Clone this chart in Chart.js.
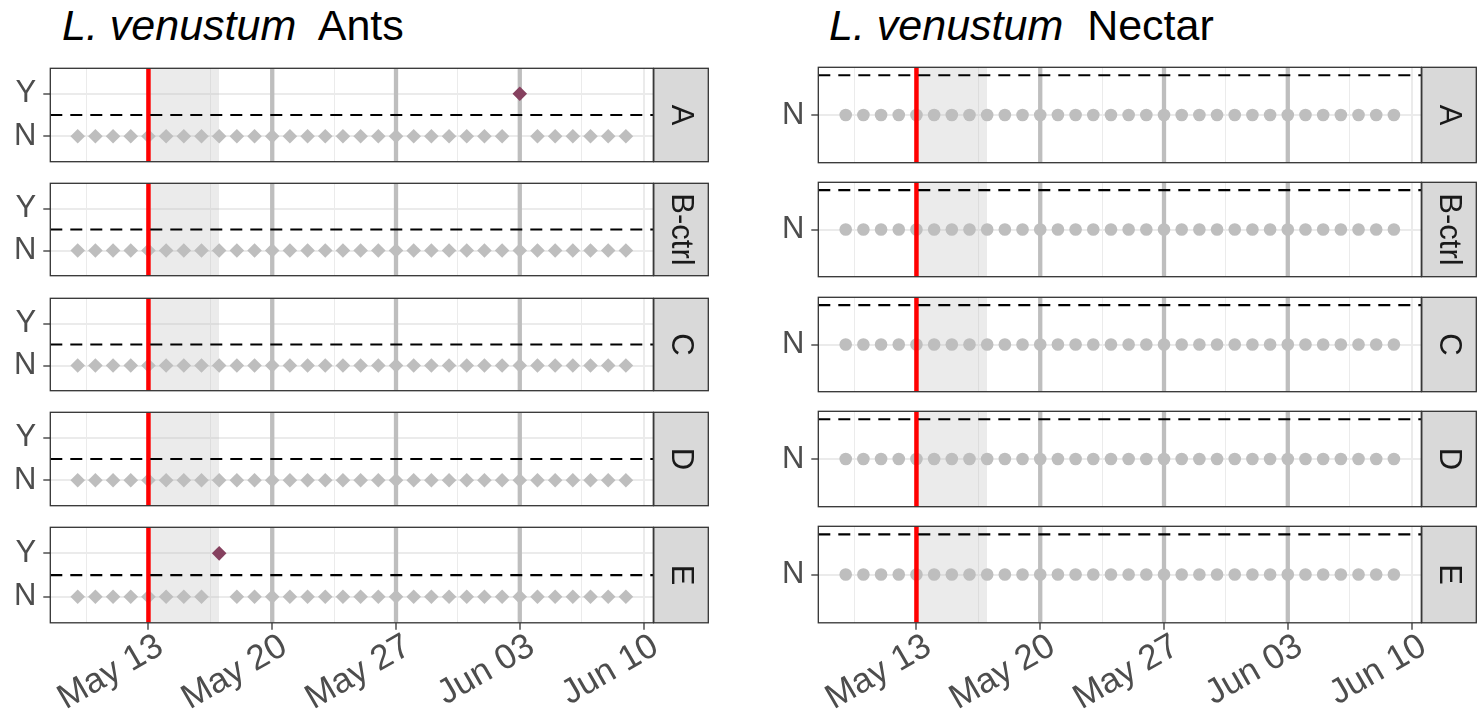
<!DOCTYPE html>
<html>
<head>
<meta charset="utf-8">
<script src="https://cdn.jsdelivr.net/npm/chart.js@4.4.0/dist/chart.umd.min.js"></script>
<style>
body { margin: 0; background: #fff; width: 1480px; height: 710px; overflow: hidden; position: relative; font-family: "Liberation Sans", Arial, sans-serif; }
.titulo { position: absolute; top: 4px; font-size: 43px; line-height: 43px; color: #000; white-space: pre; }
canvas { position: absolute; }
</style>
</head>
<body>
<div class="titulo" style="left:62px"><i>L. venustum</i>  Ants</div>
<div class="titulo" style="left:829px"><i>L. venustum</i>  Nectar</div>
<script>
var fechas = ['05-09', '05-10', '05-11', '05-12', '05-13', '05-14', '05-15', '05-16',
              '05-17', '05-18', '05-19', '05-20', '05-21', '05-22', '05-23', '05-24',
              '05-25', '05-26', '05-27', '05-28', '05-29', '05-30', '05-31', '06-01',
              '06-02', '06-03', '06-04', '06-05', '06-06', '06-07', '06-08', '06-09'];

var facetas = ['A', 'B-ctrl', 'C', 'D', 'E'];
var nivelesHormigas = ['N', 'Y'];
var nivelesNectar = ['N'];

var hormigasA = ['N','N','N','N','N','N','N','N', 'N','N','N','N','N','N','N','N',
                 'N','N','N','N','N','N','N','N', 'N','Y','N','N','N','N','N','N'];
var hormigasB = ['N','N','N','N','N','N','N','N', 'N','N','N','N','N','N','N','N',
                 'N','N','N','N','N','N','N','N', 'N','N','N','N','N','N','N','N'];
var hormigasC = ['N','N','N','N','N','N','N','N', 'N','N','N','N','N','N','N','N',
                 'N','N','N','N','N','N','N','N', 'N','N','N','N','N','N','N','N'];
var hormigasD = ['N','N','N','N','N','N','N','N', 'N','N','N','N','N','N','N','N',
                 'N','N','N','N','N','N','N','N', 'N','N','N','N','N','N','N','N'];
var hormigasE = ['N','N','N','N','N','N','N','N', 'Y','N','N','N','N','N','N','N',
                 'N','N','N','N','N','N','N','N', 'N','N','N','N','N','N','N','N'];

var nectarA = ['N','N','N','N','N','N','N','N', 'N','N','N','N','N','N','N','N',
               'N','N','N','N','N','N','N','N', 'N','N','N','N','N','N','N','N'];
var nectarB = ['N','N','N','N','N','N','N','N', 'N','N','N','N','N','N','N','N',
               'N','N','N','N','N','N','N','N', 'N','N','N','N','N','N','N','N'];
var nectarC = ['N','N','N','N','N','N','N','N', 'N','N','N','N','N','N','N','N',
               'N','N','N','N','N','N','N','N', 'N','N','N','N','N','N','N','N'];
var nectarD = ['N','N','N','N','N','N','N','N', 'N','N','N','N','N','N','N','N',
               'N','N','N','N','N','N','N','N', 'N','N','N','N','N','N','N','N'];
var nectarE = ['N','N','N','N','N','N','N','N', 'N','N','N','N','N','N','N','N',
               'N','N','N','N','N','N','N','N', 'N','N','N','N','N','N','N','N'];

var ticksX = ['05-13', '05-20', '05-27', '06-03', '06-10'];
var etiquetasX = ['May 13', 'May 20', 'May 27', 'Jun 03', 'Jun 10'];

var tratamiento = '05-13';
var lineasSemana = ['05-20', '05-27', '06-03'];
var sombra = ['05-13', '05-17'];
var umbral = 1.5;

var colorNo = '#BEBEBE';
var colorSi = '#86415F';

Chart.defaults.font.family = '"Liberation Sans", Arial, sans-serif';

function dia(s) {
    var p = s.split('-');
    return (Date.UTC(2021, +p[0] - 1, +p[1]) - Date.UTC(2021, 0, 1)) / 86400000;
}

// rango x como ggplot: datos +/- 5%
var d0 = dia(fechas[0]), d1 = dia(fechas[fechas.length - 1]);
var xMin = d0 - 0.05 * (d1 - d0);
var xMax = d1 + 0.05 * (d1 - d0);

var mayores = ticksX.map(dia);
var paso = mayores[1] - mayores[0];
var posicionesX = [];
mayores.forEach(function (m) {
    posicionesX.push(m - paso / 2);
    posicionesX.push(m);
});
posicionesX = posicionesX.filter(function (v) { return v >= xMin && v <= xMax; });

function esMayor(v) {
    return mayores.indexOf(v) >= 0;
}

var topesFaceta = [65.7, 180.4, 295.0, 409.6, 524.2];
var altoFaceta = 98.6;

var marcoPlugin = {
    id: 'marco',
    afterDraw: function (chart, args, opts) {
        var ca = chart.chartArea;
        var ctx = chart.ctx;
        var h = ca.bottom - ca.top;
        ctx.save();
        ctx.lineWidth = 1.3;
        ctx.strokeStyle = '#333333';
        ctx.strokeRect(ca.left, ca.top, ca.right - ca.left, h);
        var sx = ca.right + 0.5;
        var sw = 54.5;
        ctx.fillStyle = '#D9D9D9';
        ctx.fillRect(sx, ca.top, sw, h);
        ctx.strokeRect(sx, ca.top, sw, h);
        ctx.translate(sx + sw / 2, ca.top + h / 2);
        ctx.rotate(Math.PI / 2);
        ctx.fillStyle = '#1A1A1A';
        ctx.font = '31px "Liberation Sans", Arial, sans-serif';
        ctx.textAlign = 'center';
        ctx.textBaseline = 'middle';
        ctx.fillText(opts.texto, 0, 1);
        ctx.restore();
    }
};

function crearFaceta(panel, f) {
    var ultima = f === facetas.length - 1;
    var top = topesFaceta[f];
    var bottom = top + altoFaceta;
    var cTop = Math.floor(top) - 4;
    var cBottom = ultima ? 710 : Math.ceil(bottom) + 4;

    var canvas = document.createElement('canvas');
    canvas.width = 712;
    canvas.height = cBottom - cTop;
    canvas.style.left = panel.izq + 'px';
    canvas.style.top = cTop + 'px';
    document.body.appendChild(canvas);

    var valores = panel.valores[f];
    var niveles = panel.niveles;
    var yMin = 0.4;
    var yMax = niveles.length + 0.6;

    var datasets = [];
    datasets.push({
        data: [{ x: xMin, y: umbral }, { x: xMax, y: umbral }],
        borderColor: '#000000', borderWidth: 2.2, borderDash: [12, 8],
        pointRadius: 0, order: 0
    });
    datasets.push({
        data: [{ x: dia(tratamiento), y: yMin }, { x: dia(tratamiento), y: yMax }],
        borderColor: '#FF0000', borderWidth: 4.5, pointRadius: 0, order: 1
    });
    datasets.push({
        data: fechas.map(function (d, i) {
            return { x: dia(d), y: niveles.indexOf(valores[i]) + 1 };
        }),
        showLine: false,
        pointStyle: panel.forma,
        pointRadius: panel.radio,
        pointBorderWidth: 0,
        pointBackgroundColor: function (c) {
            return valores[c.dataIndex] === 'Y' ? colorSi : colorNo;
        },
        pointBorderColor: 'rgba(0,0,0,0)',
        order: 2
    });
    lineasSemana.forEach(function (d) {
        datasets.push({
            data: [{ x: dia(d), y: yMin }, { x: dia(d), y: yMax }],
            borderColor: '#BEBEBE', borderWidth: 4.3, pointRadius: 0, order: 3
        });
    });
    datasets.push({
        data: [{ x: dia(sombra[0]), y: yMax }, { x: dia(sombra[1]), y: yMax }],
        borderColor: 'rgba(0,0,0,0)', borderWidth: 1, pointRadius: 0,
        fill: 'start', backgroundColor: 'rgba(190,190,190,0.3)',
        order: 4
    });

    new Chart(canvas, {
        type: 'line',
        data: { datasets: datasets },
        options: {
            responsive: false,
            animation: false,
            events: [],
            layout: {
                padding: { left: 0, right: 58.7, top: top - cTop, bottom: ultima ? 0 : cBottom - bottom }
            },
            plugins: {
                legend: { display: false },
                tooltip: { enabled: false },
                marco: { texto: facetas[f] }
            },
            scales: {
                x: {
                    type: 'linear', min: xMin, max: xMax,
                    afterBuildTicks: function (s) {
                        s.ticks = posicionesX.map(function (v) { return { value: v }; });
                    },
                    afterFit: function (s) {
                        s.height = ultima ? 710 - bottom : 0;
                        s.paddingLeft = 0;
                        s.paddingRight = 0;
                    },
                    border: { display: false },
                    grid: {
                        color: '#EBEBEB',
                        lineWidth: function (c) { return c.tick && !esMayor(c.tick.value) ? 1 : 2; },
                        drawTicks: ultima,
                        tickLength: 7,
                        tickWidth: 1.3,
                        tickColor: function (c) { return c.tick && esMayor(c.tick.value) ? '#333333' : 'rgba(0,0,0,0)'; }
                    },
                    ticks: {
                        display: ultima,
                        autoSkip: false,
                        minRotation: 30,
                        maxRotation: 30,
                        padding: -4,
                        labelOffset: 12,
                        color: '#4D4D4D',
                        font: { size: 35 },
                        callback: function (v) {
                            var i = mayores.indexOf(v);
                            return i >= 0 ? etiquetasX[i] : '';
                        }
                    }
                },
                y: {
                    type: 'linear', min: yMin, max: yMax,
                    afterBuildTicks: function (s) {
                        s.ticks = niveles.map(function (n, i) { return { value: i + 1 }; });
                    },
                    afterFit: function (s) {
                        s.width = 50.3;
                        s.paddingTop = 0;
                        s.paddingBottom = 0;
                    },
                    border: { display: false },
                    grid: { color: '#EBEBEB', lineWidth: 2, tickLength: 7, tickWidth: 1.3, tickColor: '#333333' },
                    ticks: {
                        color: '#4D4D4D',
                        padding: 7,
                        font: { size: 31 },
                        callback: function (v) { return niveles[v - 1]; }
                    }
                }
            }
        },
        plugins: [marcoPlugin]
    });
}

var paneles = [
    { izq: 0, niveles: nivelesHormigas, forma: 'rectRot', radio: 7.3,
      valores: [hormigasA, hormigasB, hormigasC, hormigasD, hormigasE] },
    { izq: 768, niveles: nivelesNectar, forma: 'circle', radio: 6.3,
      valores: [nectarA, nectarB, nectarC, nectarD, nectarE] }
];

paneles.forEach(function (p) {
    for (var f = 0; f < facetas.length; f++) {
        crearFaceta(p, f);
    }
});
</script>
</body>
</html>
